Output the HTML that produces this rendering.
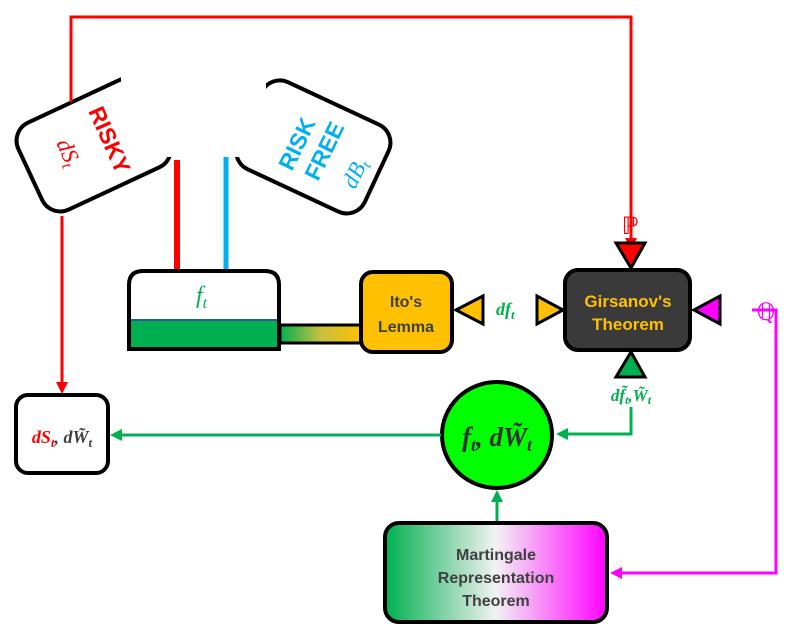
<!DOCTYPE html>
<html><head><meta charset="utf-8"><style>
html,body{margin:0;padding:0;background:#fff;}
svg{display:block;}
text{font-family:"Liberation Sans","DejaVu Sans",sans-serif;}
.m{font-family:"Liberation Serif","DejaVu Serif",serif;font-style:italic;}
</style></head><body>
<svg width="788" height="636" viewBox="0 0 788 636" xmlns="http://www.w3.org/2000/svg">
<defs>
<linearGradient id="g1" x1="0" x2="1" y1="0" y2="0"><stop offset="0" stop-color="#00b050"/><stop offset="0.5" stop-color="#c9c040"/><stop offset="1" stop-color="#ffc000"/></linearGradient>
<linearGradient id="g2" x1="0" x2="1" y1="0" y2="0"><stop offset="0" stop-color="#00b050"/><stop offset="0.5" stop-color="#f2f2f2"/><stop offset="1" stop-color="#ff00ff"/></linearGradient>
</defs>
<rect x="0" y="0" width="140" height="96" rx="20" transform="translate(10,131) rotate(-25)" fill="#fff" stroke="#000" stroke-width="4"/>
<rect x="-140" y="0" width="140" height="96" rx="20" transform="translate(397,133) rotate(25)" fill="#fff" stroke="#000" stroke-width="4"/>
<rect x="121" y="0" width="145" height="157" fill="#fff"/>
<polyline points="71,102 71,17 631,17 631,242" fill="none" stroke="#ff0000" stroke-width="3"/>
<polygon points="625,238 637,238 631,250" fill="#ff0000"/>
<line x1="62" y1="216" x2="62" y2="385" stroke="#ff0000" stroke-width="3"/>
<polygon points="56,382 68,382 62,394" fill="#ff0000"/>
<text transform="translate(88,111) rotate(66)" font-size="23" font-weight="bold" fill="#ff0000">RISKY</text>
<text class="m" transform="translate(56,143) rotate(66)" font-size="23" fill="#ff0000">dS<tspan font-size="15" dy="4">t</tspan></text>
<text transform="translate(292,172) rotate(-64)" font-size="23" font-weight="bold" fill="#00b0f0">RISK</text>
<text transform="translate(318,182) rotate(-64)" font-size="23" font-weight="bold" fill="#00b0f0">FREE</text>
<text class="m" transform="translate(355,190) rotate(-64)" font-size="23" fill="#00b0f0">dB<tspan font-size="15" dy="4">t</tspan></text>
<line x1="177" y1="160" x2="177" y2="272" stroke="#ff0000" stroke-width="6"/>
<line x1="226" y1="157" x2="226" y2="272" stroke="#00b0f0" stroke-width="5"/>
<path d="M129,349 V285 Q129,271 143,271 H265 Q279,271 279,285 V349 Z" fill="#fff"/>
<rect x="130" y="320" width="148" height="29" fill="#00b050"/>
<line x1="130" y1="320" x2="278" y2="320" stroke="#2f5597" stroke-width="2"/>
<path d="M129,349 V285 Q129,271 143,271 H265 Q279,271 279,285 V349 Z" fill="none" stroke="#000" stroke-width="4"/>
<text class="m" x="196" y="303" font-size="24" fill="#00b050">f<tspan font-size="16" dy="5">t</tspan></text>
<rect x="280" y="325" width="82" height="18" fill="url(#g1)" stroke="#000" stroke-width="3"/>
<rect x="361" y="272" width="91" height="80" rx="12" fill="#ffc000" stroke="#000" stroke-width="4"/>
<text x="406" y="307" font-size="16" font-weight="bold" fill="#404040" text-anchor="middle">Ito's</text>
<text x="406" y="332" font-size="16" font-weight="bold" fill="#404040" text-anchor="middle">Lemma</text>
<polygon points="456,310 483,296 483,324" fill="#ffc000" stroke="#000" stroke-width="3"/>
<text class="m" x="496" y="315" font-size="18" font-weight="bold" fill="#00b050">df<tspan font-size="13" dy="4">t</tspan></text>
<polygon points="563,310 537,296 537,324" fill="#ffc000" stroke="#000" stroke-width="3"/>
<rect x="565" y="270" width="125" height="80" rx="13" fill="#3a3a3a" stroke="#000" stroke-width="4"/>
<text x="628" y="307" font-size="17" font-weight="bold" fill="#ffc000" text-anchor="middle">Girsanov's</text>
<text x="628" y="330" font-size="17" font-weight="bold" fill="#ffc000" text-anchor="middle">Theorem</text>
<polygon points="616,243 645,243 631,268" fill="#ff0000" stroke="#000" stroke-width="3"/>
<text x="630" y="234" font-size="24" fill="#ff0000" text-anchor="middle" font-family="DejaVu Serif">ℙ</text>
<polygon points="694,310 720,296 720,324" fill="#ff00ff" stroke="#000" stroke-width="3"/>
<text x="766" y="320" font-size="24" fill="#ff00ff" text-anchor="middle" font-family="DejaVu Serif">ℚ</text>
<polyline points="752,310 776,310 776,573 620,573" fill="none" stroke="#ff00ff" stroke-width="3"/>
<polygon points="622,567 622,579 610,573" fill="#ff00ff"/>
<polygon points="616,377 645,377 631,352" fill="#00b050" stroke="#000" stroke-width="3"/>
<text class="m" x="631" y="401" font-size="17" font-weight="bold" fill="#00b050" text-anchor="middle">df̃<tspan font-size="12" dy="3">t</tspan><tspan dy="-3">,W̃</tspan><tspan font-size="12" dy="3">t</tspan></text>
<polyline points="631,407 631,434 566,434" fill="none" stroke="#00b050" stroke-width="3"/>
<polygon points="568,428 568,440 556,434" fill="#00b050"/>
<ellipse cx="497" cy="435" rx="55" ry="53" fill="#00ff00" stroke="#000" stroke-width="4"/>
<text class="m" x="497" y="446" font-size="27" font-weight="bold" fill="#333" text-anchor="middle">f<tspan font-size="18" dy="5">t</tspan><tspan dy="-5">, dW̃</tspan><tspan font-size="18" dy="5">t</tspan></text>
<line x1="441" y1="435" x2="120" y2="435" stroke="#00b050" stroke-width="3"/>
<polygon points="122,429 122,441 110,435" fill="#00b050"/>
<rect x="16" y="395" width="92" height="78" rx="12" fill="#fff" stroke="#000" stroke-width="4"/>
<text class="m" x="62" y="443" font-size="18" font-weight="bold" text-anchor="middle"><tspan fill="#ff0000">dS</tspan><tspan fill="#ff0000" font-size="13" dy="4">t</tspan><tspan fill="#404040" dy="-4">, dW̃</tspan><tspan fill="#404040" font-size="13" dy="4">t</tspan></text>
<line x1="497" y1="522" x2="497" y2="500" stroke="#00b050" stroke-width="3"/>
<polygon points="491,502 503,502 497,490" fill="#00b050"/>
<rect x="385" y="523" width="222" height="99" rx="14" fill="url(#g2)" stroke="#000" stroke-width="4"/>
<text x="496" y="560" font-size="16" font-weight="bold" fill="#404040" text-anchor="middle">Martingale</text>
<text x="496" y="583" font-size="16" font-weight="bold" fill="#404040" text-anchor="middle">Representation</text>
<text x="496" y="606" font-size="16" font-weight="bold" fill="#404040" text-anchor="middle">Theorem</text>
</svg>
</body></html>
